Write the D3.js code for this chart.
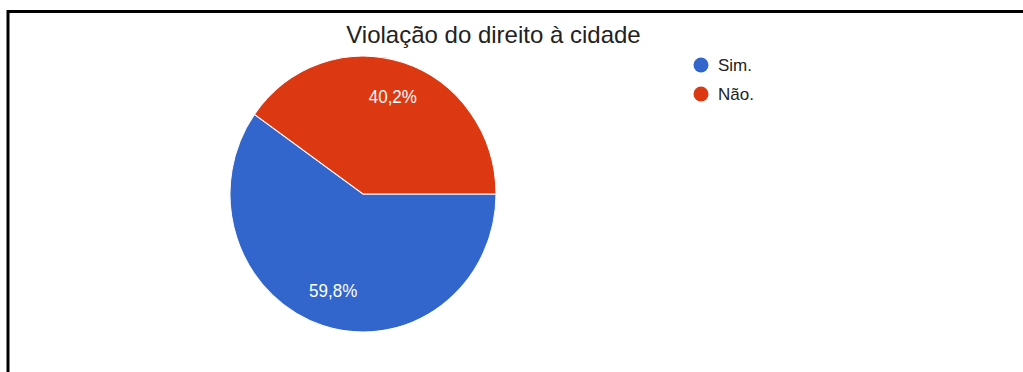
<!DOCTYPE html>
<html>
<head>
<meta charset="utf-8">
<script src="https://cdn.jsdelivr.net/npm/d3@7/dist/d3.min.js"></script>
<style>
  html, body { margin: 0; padding: 0; background: #fff; }
  svg { display: block; font-family: "Liberation Sans", Arial, sans-serif; }
</style>
</head>
<body>
<svg id="chart" width="1023" height="372"></svg>
<script>
const title = "Violação do direito à cidade";
const categories = ["Sim.", "Não."];
const values = [59.8, 40.2];
const labels = ["59,8%", "40,2%"];
const colors = ["#3366cc", "#dc3912"];

const svg = d3.select("#chart");
const W = 1023, H = 372;

// frame (top and left edges visible)
svg.append("line").attr("x1", 7).attr("y1", 11.5).attr("x2", W).attr("y2", 11.5)
  .attr("stroke", "#000").attr("stroke-width", 3);
svg.append("line").attr("x1", 8).attr("y1", 10).attr("x2", 8).attr("y2", H)
  .attr("stroke", "#000").attr("stroke-width", 3);

svg.append("text").attr("x", 493.5).attr("y", 43)
  .attr("text-anchor", "middle").attr("font-size", 24).attr("fill", "#222")
  .text(title);

const r = 133;
const data = categories.map((c, i) => ({ cat: c, value: values[i], label: labels[i], color: colors[i] }));
const pie = d3.pie().value(d => d.value).sort(null)
  .startAngle(Math.PI / 2).endAngle(Math.PI / 2 + 2 * Math.PI);
const arcs = pie(data);
const arc = d3.arc().innerRadius(0).outerRadius(r);
const labelArc = d3.arc().innerRadius(r * 0.74).outerRadius(r * 0.74);

const g = svg.append("g").attr("transform", "translate(363,194) scale(1,1.037)");
g.selectAll("path").data(arcs).join("path")
  .attr("d", arc).attr("fill", d => d.data.color)
  .attr("stroke", "#fff").attr("stroke-width", 1);
g.selectAll("text").data(arcs).join("text")
  .attr("transform", d => "translate(" + labelArc.centroid(d) + ")")
  .attr("text-anchor", "middle").attr("dy", "0.35em")
  .attr("font-size", 17).attr("fill", "#fff")
  .text(d => d.data.label);

const leg = svg.append("g").attr("transform", "translate(701,0)");
const item = leg.selectAll("g").data(data).join("g")
  .attr("transform", (d, i) => "translate(0," + (65 + i * 29) + ")");
item.append("circle").attr("r", 7.5).attr("fill", d => d.color);
item.append("text").attr("x", 17).attr("dy", "0.35em")
  .attr("font-size", 17).attr("fill", "#222").text(d => d.cat);
</script>
</body>
</html>
